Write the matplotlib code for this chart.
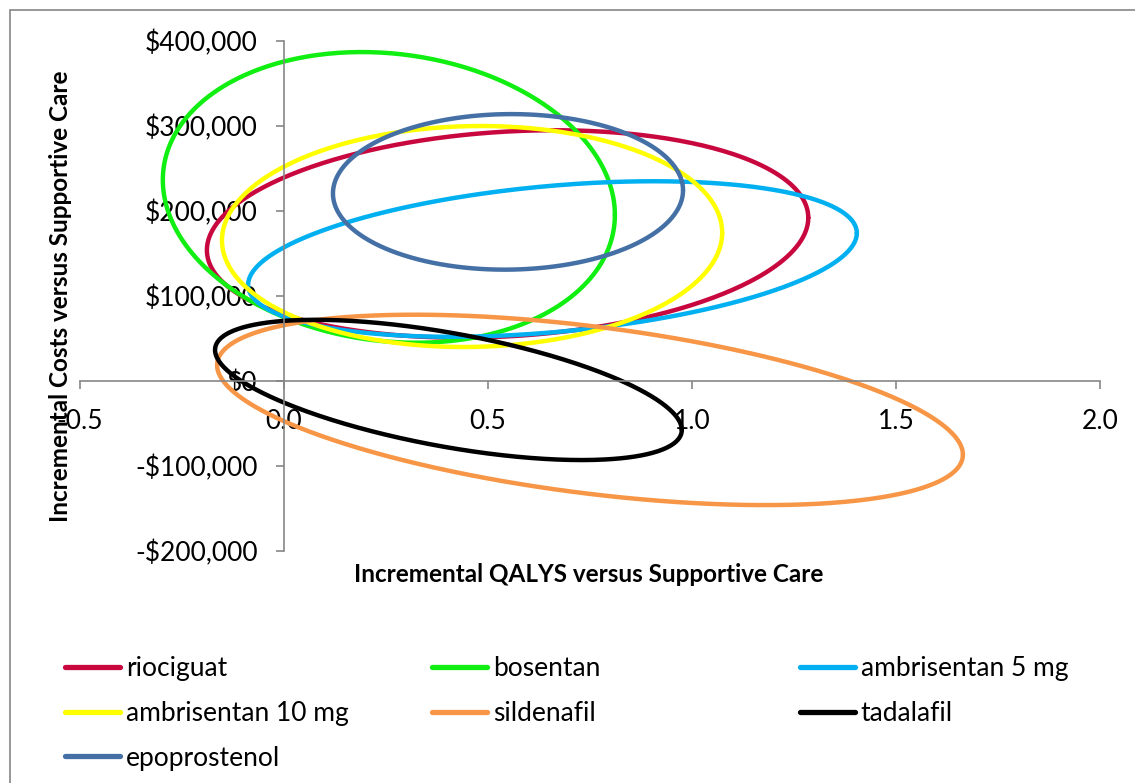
import numpy as np
import matplotlib
matplotlib.use('Agg')
import matplotlib.pyplot as plt
from matplotlib.lines import Line2D
from matplotlib.patches import Rectangle
from matplotlib.ticker import FuncFormatter

plt.rcParams['font.family'] = ['Lato', 'DejaVu Sans']

# confidence ellipses: centre, half ranges, correlation
drugs = ['riociguat', 'bosentan', 'ambrisentan 5 mg', 'ambrisentan 10 mg',
         'sildenafil', 'tadalafil', 'epoprostenol']
colors = ['#C8073F', '#11EE11', '#00B0F0', '#FFFF00', '#F79646', '#000000', '#4470A6']
center_qaly = [0.548, 0.257, 0.658, 0.461, 0.750, 0.403, 0.549]
center_cost = [173000, 216000, 143500, 170000, -34000, -10500, 222500]
half_qaly = [0.737, 0.554, 0.746, 0.613, 0.914, 0.572, 0.429]
half_cost = [122000, 171000, 91500, 130000, 112000, 82500, 91500]
corr = [0.156, -0.12, 0.333, 0.035, -0.47, -0.57, 0.02]

x_ticks = [-0.5, 0.0, 0.5, 1.0, 1.5, 2.0]
y_ticks = [-200000, -100000, 0, 100000, 200000, 300000, 400000]

W, H = 1135, 783
fig = plt.figure(figsize=(W / 100, H / 100), dpi=100)
ax = fig.add_axes([80 / W, 1 - 551 / H, 1020 / W, 510 / H])

t = np.linspace(0, 2 * np.pi, 400)
handles = []
for name, c, cx, cy, a, b, r in zip(drugs, colors, center_qaly, center_cost,
                                   half_qaly, half_cost, corr):
    xs = cx + a * np.cos(t)
    ys = cy + b * (r * np.cos(t) + np.sqrt(1 - r * r) * np.sin(t))
    ax.plot(xs, ys, color=c, lw=3.2, solid_capstyle='round')
    handles.append(Line2D([], [], color=c, lw=3.8, solid_capstyle='round', label=name))

ax.set_xlim(-0.5, 2.0)
ax.set_ylim(-200000, 400000)
ax.set_xticks(x_ticks)
ax.set_yticks(y_ticks)
ax.xaxis.set_major_formatter(FuncFormatter(lambda v, p: f'{v:.1f}'))
ax.yaxis.set_major_formatter(FuncFormatter(
    lambda v, p: ('-' if v < 0 else '') + f'${abs(v):,.0f}'))

for s in ['top', 'right']:
    ax.spines[s].set_visible(False)
ax.spines['left'].set_position(('data', 0))
ax.spines['bottom'].set_position(('data', 0))
for s in ['left', 'bottom']:
    ax.spines[s].set_color('#868686')
    ax.spines[s].set_linewidth(1.2)
ax.tick_params(axis='both', direction='out', length=6, width=1.2, color='#868686',
               labelsize=19, labelcolor='black')
ax.tick_params(axis='y', pad=13)
ax.tick_params(axis='x', pad=14)
ax.patch.set_visible(False)

ax.set_xlabel('Incremental QALYS versus Supportive Care', fontsize=17.5,
              fontweight='bold', va='center')
ax.xaxis.set_label_coords(589 / W, 1 - 575 / H, transform=fig.transFigure)
ax.set_ylabel('Incremental Costs versus Supportive Care', fontsize=17.5,
              fontweight='bold', va='center')
ax.yaxis.set_label_coords(61 / W, 1 - 296 / H, transform=fig.transFigure)

# legend in three columns, row-major order
cols = [[0, 3, 6], [1, 4], [2, 5]]
col_x = [65, 432, 800]
for idx, xpx in zip(cols, col_x):
    fig.legend(handles=[handles[i] for i in idx], loc='upper left',
               bbox_to_anchor=(xpx / W, 1 - 656 / H), frameon=False,
               fontsize=19, handlelength=2.1, handletextpad=0.2,
               labelspacing=0.75, borderpad=0, borderaxespad=0)

fig.patches.append(Rectangle((10 / W, -0.1), 1.2, 1 - 10 / H + 0.1,
                             transform=fig.transFigure, fill=False,
                             edgecolor='#868686', lw=1.2))

fig.savefig('out.png', dpi=100)
